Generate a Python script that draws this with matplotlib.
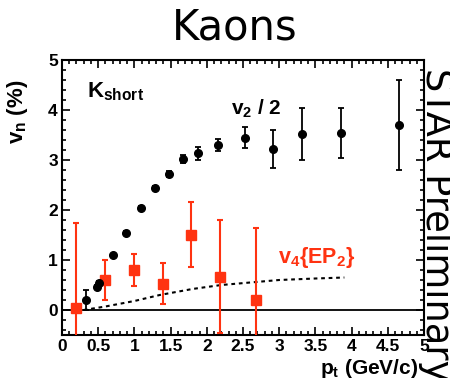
import matplotlib
matplotlib.use("Agg")
import matplotlib.pyplot as plt
from matplotlib.ticker import MultipleLocator

plt.rcParams['mathtext.fontset'] = 'custom'
plt.rcParams['mathtext.bf'] = 'Liberation Sans:bold'
plt.rcParams['mathtext.rm'] = 'Liberation Sans:bold'
plt.rcParams['mathtext.default'] = 'bf'
plt.rcParams['font.family'] = ['Liberation Sans', 'DejaVu Sans']

# v2/2 for K0short
v2_pt = [0.33, 0.49, 0.51, 0.70, 0.88, 1.09, 1.28, 1.48, 1.67, 1.88, 2.15, 2.53, 2.92, 3.32, 3.85, 4.65]
v2_half = [0.20, 0.47, 0.55, 1.10, 1.55, 2.05, 2.45, 2.72, 3.02, 3.14, 3.30, 3.45, 3.23, 3.52, 3.55, 3.70]
v2_err = [0.20, 0.04, 0.04, 0.03, 0.03, 0.03, 0.04, 0.07, 0.08, 0.13, 0.12, 0.21, 0.38, 0.52, 0.50, 0.90]

# v4{EP2}
v4_pt = [0.19, 0.59, 0.99, 1.39, 1.78, 2.18, 2.68]
v4 = [0.05, 0.61, 0.81, 0.53, 1.51, 0.67, 0.21]
v4_err = [1.70, 0.40, 0.32, 0.41, 0.65, 1.13, 1.44]

# reference curve for v4
curve_pt = [0.30, 0.60, 1.00, 1.35, 1.80, 2.20, 2.60, 3.00, 3.50, 3.90]
curve_v4 = [0.00, 0.07, 0.18, 0.30, 0.42, 0.50, 0.55, 0.60, 0.63, 0.65]

red = '#ff3311'

fig = plt.figure(figsize=(4.5, 3.78), dpi=100)
ax = fig.add_axes([62 / 450, 1 - 335 / 378, 362 / 450, 275 / 378])
ax.set_xlim(0, 5)
ax.set_ylim(-0.5, 5)

ax.axhline(0, color='black', lw=1.3, zorder=1)
ax.plot(curve_pt, curve_v4, color='black', lw=1.5, ls=(0, (1.8, 1.8)), zorder=2)

ax.errorbar(v4_pt, v4, yerr=v4_err, fmt='s', color=red, ms=7, elinewidth=1.5,
            capsize=2, capthick=1.5, zorder=3)
ax.errorbar(v2_pt, v2_half, yerr=v2_err, fmt='o', color='black', ms=5.5,
            elinewidth=1.3, capsize=2, capthick=1.3, zorder=4)

for s in ax.spines.values():
    s.set_linewidth(1.5)

ax.xaxis.set_major_locator(MultipleLocator(0.5))
ax.xaxis.set_minor_locator(MultipleLocator(0.1))
ax.yaxis.set_major_locator(MultipleLocator(1))
ax.yaxis.set_minor_locator(MultipleLocator(0.2))
ax.tick_params(which='both', direction='in', top=True, right=True, width=1.2)
ax.tick_params(which='major', length=5.5, pad=3, labelsize=12.5)
ax.tick_params(which='minor', length=3)
ax.set_xticks([0, 0.5, 1, 1.5, 2, 2.5, 3, 3.5, 4, 4.5, 5])
ax.set_xticklabels(['0', '0.5', '1', '1.5', '2', '2.5', '3', '3.5', '4', '4.5', '5'])
ax.set_yticks([0, 1, 2, 3, 4, 5])
for lab in ax.get_xticklabels() + ax.get_yticklabels():
    lab.set_fontweight('bold')

ax.text(4.92, -1.28, r'$p_t$ (GeV/c)', ha='right', va='baseline', fontsize=15,
        fontweight='bold', clip_on=False)
ax.text(-0.62, 4.6, r'$v_n$ (%)', ha='center', va='top', rotation=90, fontsize=16,
        fontweight='bold', clip_on=False)

ax.text(0.34, 4.26, r'$K_{short}$', ha='left', va='baseline', fontsize=16)
ax.text(2.34, 3.9, r'$v_2$ / 2', ha='left', va='baseline', fontsize=15, fontweight='bold')
ax.text(2.98, 0.94, r'$v_4${EP$_2$}', ha='left', va='baseline', fontsize=15.5,
        fontweight='bold', color=red)

fig.text(235 / 450, 1 - 39 / 378, 'Kaons', ha='center', va='baseline',
         fontsize=30, family='DejaVu Sans')
fig.text(418 / 450, 1 - 68 / 378, 'STAR Preliminary', ha='left', va='top',
         rotation=-90, fontsize=26.5, family='DejaVu Sans')

fig.savefig('out.png', dpi=100)
